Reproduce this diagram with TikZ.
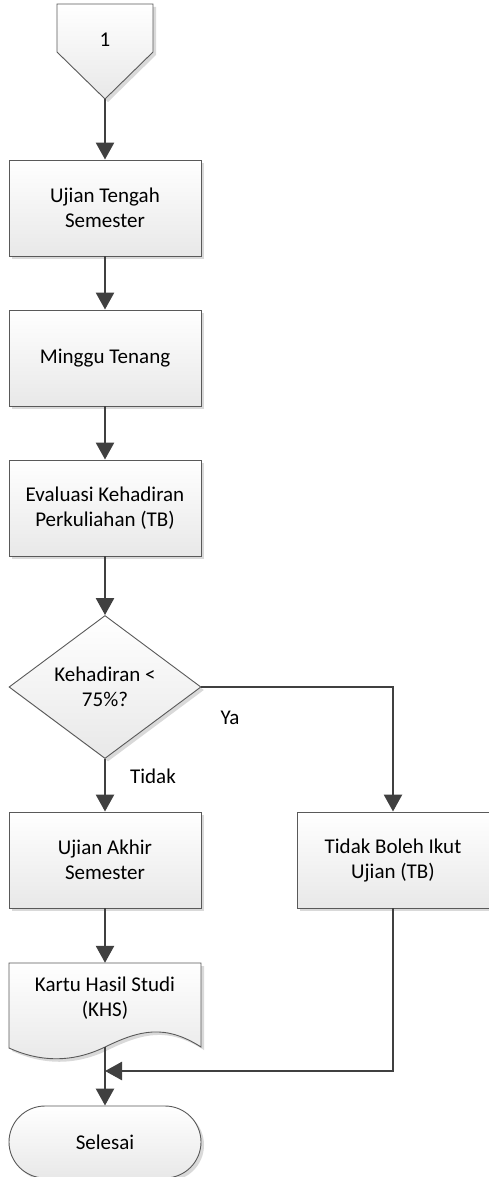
\documentclass[tikz,border=0pt]{standalone}
\usepackage{fontspec}
\setmainfont{Carlito}
\usetikzlibrary{arrows.meta,shapes.geometric,shadows}
\definecolor{lc}{HTML}{404040}
\definecolor{bc}{HTML}{595959}
\begin{document}
\begin{tikzpicture}[x=1pt,y=-1pt,
  font=\fontsize{21}{25}\selectfont,
  shade/.style={top color=white, bottom color=black!9},
  shd/.style={drop shadow={shadow xshift=3pt,shadow yshift=-3pt,fill=black,opacity=0.15}},
  box/.style={draw=bc, line width=0.9pt, shade, shd, minimum width=192pt, minimum height=96pt, align=center, inner sep=0pt},
  dec/.style={diamond, draw=bc, line width=0.9pt, shade, shd, minimum width=192pt, minimum height=143pt, align=center, inner sep=0pt},
  term/.style={draw=bc, line width=0.9pt, shade, shd, rounded corners=36pt, minimum width=192pt, minimum height=72pt, inner sep=0pt},
  outline/.style={draw=bc, line width=0.9pt, shade, shd},
  line/.style={draw=lc, line width=2.6pt},
  conn/.style={line, -{Triangle[width=18pt,length=17pt]}},
  lbl/.style={font=\fontsize{21}{25}\selectfont}]
\useasboundingbox (0,0) rectangle (488,1177);
% off-page connector
\path[outline] (57,4) -- (153,4) -- (153,52) -- (105,99) -- (57,52) -- cycle;
\node (c1) at (105,40) {1};
\coordinate (c1b) at (105,99);
\node[box] (b1) at (105,208) {Ujian Tengah\\Semester};
\node[box] (b2) at (105,358) {Minggu Tenang};
\node[box] (b3) at (105,508) {Evaluasi Kehadiran\\Perkuliahan (TB)};
\node[dec] (d) at (105,687) {Kehadiran <\\75\%?};
\node[box] (b4) at (105,860) {Ujian Akhir\\Semester};
\node[box] (b5) at (393,860) {Tidak Boleh Ikut\\Ujian (TB)};
% document
\path[outline] (9,963) -- (201,963) -- (201,1047) .. controls (165,1024) and (140,1030) .. (105,1047) .. controls (72,1063) and (40,1062) .. (9,1048) -- cycle;
\node[minimum width=192pt, minimum height=84pt, inner sep=0pt] (doc) at (105,1005) {};
\node[align=center] (doct) at (105,998) {Kartu Hasil Studi\\(KHS)};
\coordinate (docb) at (105,1047);
\node[term] (end) at (105,1142) {Selesai};
\coordinate (m) at (105,1071);
% connectors
\draw[conn] (c1b) -- (b1);
\draw[conn] (b1) -- (b2);
\draw[conn] (b2) -- (b3);
\draw[conn] (b3) -- (d);
\draw[conn] (d) -- (b4);
\draw[conn] (d.east) -| (b5.north);
\draw[conn] (b4) -- (doc.north);
\draw[conn] (b5.south) |- (m);
\draw[conn] (docb) -- (end);
\node[lbl] (ya) at (230,718) {Ya};
\node[lbl] (tidak) at (153,776) {Tidak};
\end{tikzpicture}
\end{document}
